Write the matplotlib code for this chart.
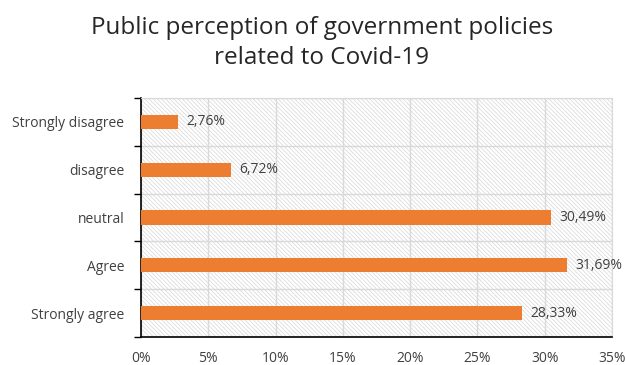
import numpy as np
import matplotlib.pyplot as plt
from matplotlib.patches import Rectangle
from matplotlib.ticker import FixedLocator, PercentFormatter

# Dados (de cima para baixo)
categories = ['Strongly disagree', 'disagree', 'neutral', 'Agree', 'Strongly agree']
values = [2.76, 6.72, 30.49, 31.69, 28.33]
labels = ['2,76%', '6,72%', '30,49%', '31,69%', '28,33%']
xticks = [0, 5, 10, 15, 20, 25, 30, 35]

plt.rcParams['font.family'] = ['Open Sans', 'DejaVu Sans']
plt.rcParams['hatch.linewidth'] = 0.5

fig = plt.figure(figsize=(6.25, 3.65), dpi=100)
ax = fig.add_axes([141 / 625, 1 - 337 / 365, (612 - 141) / 625, (337 - 98) / 365])

y = np.arange(len(categories))
ax.barh(y, values, height=0.3, color='#ed7d31', zorder=3)
for yi, v, lab in zip(y, values, labels):
    ax.text(v + 0.6, yi, lab, va='center', ha='left', fontsize=10, color='#404040', zorder=4)

ax.set_xlim(0, 35)
ax.set_ylim(len(categories) - 0.5, -0.5)
ax.set_yticks(y)
ax.set_yticklabels(categories, fontsize=10, color='#404040')
ax.yaxis.set_minor_locator(FixedLocator(np.arange(-0.5, len(categories), 1.0)))
ax.tick_params(axis='y', which='major', length=0, pad=12)
ax.tick_params(axis='y', which='minor', length=5, width=1, direction='out', color='black')
ax.set_xticks(xticks)
ax.xaxis.set_major_formatter(PercentFormatter(decimals=0))
ax.tick_params(axis='x', length=0, pad=10, labelsize=10, labelcolor='#404040')

# fundo tracejado
ax.add_patch(Rectangle((0, 0), 1, 1, transform=ax.transAxes, fill=False,
                       hatch='\\\\\\\\\\\\\\\\', edgecolor='#d6d6d6', linewidth=0, zorder=0))
ax.grid(axis='x', which='major', color='#d9d9d9', linewidth=1, zorder=1)
ax.grid(axis='y', which='minor', color='#d9d9d9', linewidth=1, zorder=1)
ax.set_axisbelow(True)

for s in ['top', 'right']:
    ax.spines[s].set_color('#d9d9d9')
for s in ['left', 'bottom']:
    ax.spines[s].set_color('black')
    ax.spines[s].set_linewidth(1.2)

fig.text(0.515, 0.882, 'Public perception of government policies\nrelated to Covid-19',
         ha='center', va='center', fontsize=17.5, color='#262626', linespacing=1.35)

fig.savefig('out.png', dpi=100)
